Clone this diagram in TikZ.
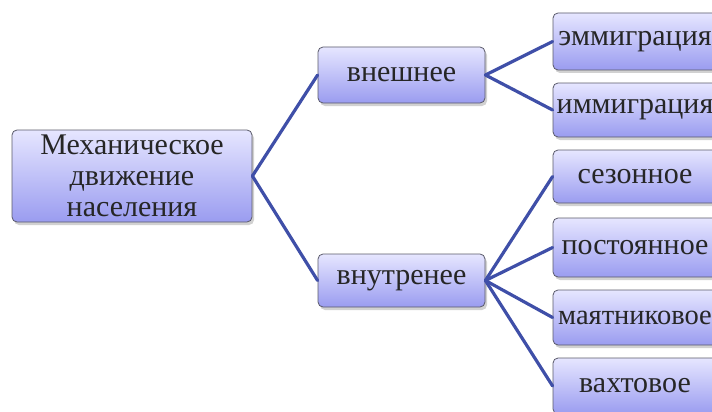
\documentclass[tikz,border=0pt]{standalone}
\usepackage{fontspec}
\setmainfont{Liberation Serif}
\usetikzlibrary{shadows}
\definecolor{linkblue}{HTML}{3F4FA8}
\definecolor{boxtop}{HTML}{E6E6FF}
\definecolor{boxbot}{HTML}{9A9CF0}
\definecolor{boxedge}{HTML}{5A5A6A}
\tikzset{
  box/.style={draw=boxedge, line width=0.8pt, rounded corners=5pt,
    top color=boxtop, bottom color=boxbot, inner sep=0pt,
    drop shadow={shadow xshift=2pt, shadow yshift=-3pt, fill=gray!60, opacity=0.6},
    font=\fontsize{30}{31}\selectfont, text=black!85, align=center},
  link/.style={draw=linkblue, line width=3.2pt, line cap=round}
}
\begin{document}
\begin{tikzpicture}[x=1pt,y=-1pt]
\useasboundingbox (0,0) rectangle (712,412);
\node[box, minimum width=240pt, minimum height=92pt] (root) at (132,176) {Механическое\\движение\\населения};
\node[box, minimum width=167pt, minimum height=56pt] (ext) at (401.5,75) {внешнее};
\node[box, minimum width=167pt, minimum height=53pt] (int) at (401.5,280.5) {внутренее};
\node[box, minimum width=164pt, minimum height=57pt] (em) at (635,41.5) {эммиграция};
\node[box, minimum width=164pt, minimum height=54pt] (im) at (635,110) {иммиграция};
\node[box, minimum width=164pt, minimum height=53pt] (s1) at (635,176.5) {сезонное};
\node[box, minimum width=164pt, minimum height=59pt] (s2) at (635,247.5) {постоянное};
\node[box, minimum width=164pt, minimum height=55pt, font=\fontsize{28.5}{31}\selectfont] (s3) at (635,317.5) {маятниковое};
\node[box, minimum width=164pt, minimum height=56pt] (s4) at (635,386) {вахтовое};
\draw[link] (root.east) -- (ext.west);
\draw[link] (root.east) -- (int.west);
\draw[link] (ext.east) -- (em.west);
\draw[link] (ext.east) -- (im.west);
\draw[link] (int.east) -- (s1.west);
\draw[link] (int.east) -- (s2.west);
\draw[link] (int.east) -- (s3.west);
\draw[link] (int.east) -- (s4.west);
\end{tikzpicture}
\end{document}
